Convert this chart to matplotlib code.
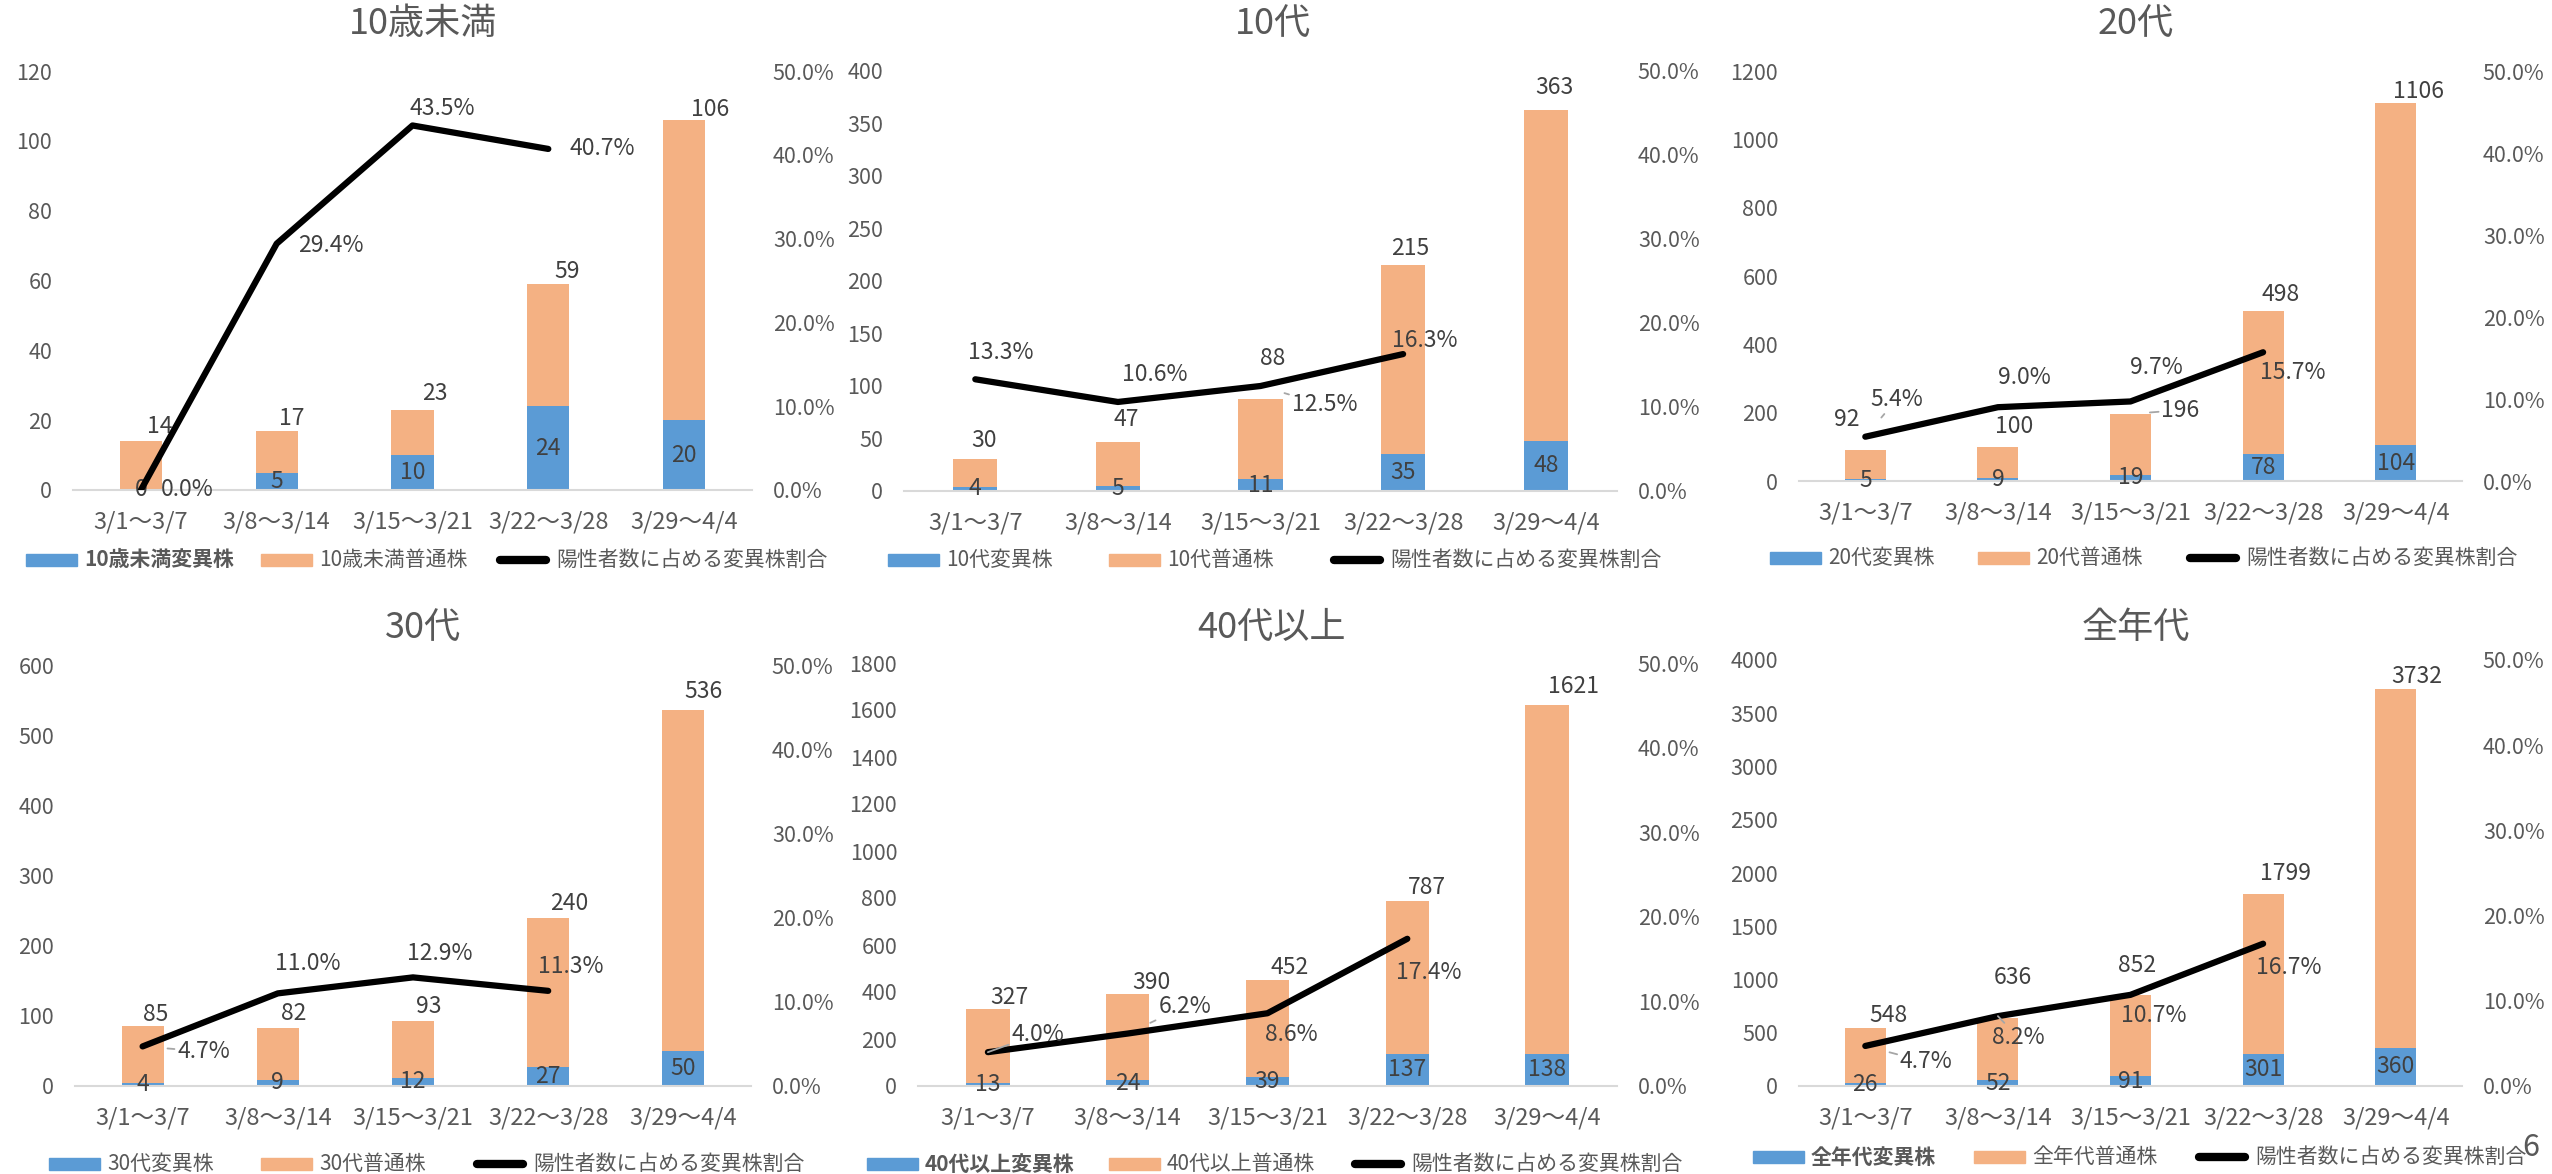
import matplotlib
matplotlib.use('Agg')
import matplotlib.pyplot as plt
from matplotlib.patches import Rectangle
from matplotlib.lines import Line2D
import numpy as np

plt.rcParams['font.family'] = ['Noto Sans CJK JP', 'DejaVu Sans']

# data
weeks = ['3/1～3/7', '3/8～3/14', '3/15～3/21', '3/22～3/28', '3/29～4/4']
groups = ['10歳未満', '10代', '20代', '30代', '40代以上', '全年代']

u10_variant = [0, 5, 10, 24, 20]
u10_total = [14, 17, 23, 59, 106]
u10_rate = [0.0, 29.4, 43.5, 40.7]

teen_variant = [4, 5, 11, 35, 48]
teen_total = [30, 47, 88, 215, 363]
teen_rate = [13.3, 10.6, 12.5, 16.3]

s20_variant = [5, 9, 19, 78, 104]
s20_total = [92, 100, 196, 498, 1106]
s20_rate = [5.4, 9.0, 9.7, 15.7]

s30_variant = [4, 9, 12, 27, 50]
s30_total = [85, 82, 93, 240, 536]
s30_rate = [4.7, 11.0, 12.9, 11.3]

s40_variant = [13, 24, 39, 137, 138]
s40_total = [327, 390, 452, 787, 1621]
s40_rate = [4.0, 6.2, 8.6, 17.4]

all_variant = [26, 52, 91, 301, 360]
all_total = [548, 636, 852, 1799, 3732]
all_rate = [4.7, 8.2, 10.7, 16.7]

variants = [u10_variant, teen_variant, s20_variant, s30_variant, s40_variant, all_variant]
totals = [u10_total, teen_total, s20_total, s30_total, s40_total, all_total]
rates = [u10_rate, teen_rate, s20_rate, s30_rate, s40_rate, all_rate]
y_max = [120, 400, 1200, 600, 1800, 4000]
y_step = [20, 50, 200, 100, 200, 500]

# layout (pixels in the 2552x1174 image)
W, H = 2552, 1174
axes_px = [(73, 71, 752, 490), (904, 71, 1617, 491), (1799, 71, 2462, 481),
           (75, 665, 751, 1086), (918, 663, 1617, 1086), (1799, 660, 2462, 1086)]
title_px = [(423, 24), (1273, 24), (2136, 24), (423, 628), (1272, 628), (2136, 628)]
# legend: start x, column width, center y
legend_px = [(26, 235, 560), (888, 221, 560), (1770, 208, 558),
             (49, 212, 1164), (867, 242, 1164), (1753, 221, 1157)]
bold_legend = [True, False, False, False, True, True]

# label offsets in px (dx right, dy down)
total_off = [
    [(19, -15), (15, -12), (22, -16), (19, -12), (26, -10)],
    [(9, -19), (8, -22), (12, -40), (7, -17), (9, -22)],
    [(-19, -30), (16, -20), (50, -4), (17, -16), (23, -12)],
    [(13, -12), (16, -15), (16, -14), (21, -14), (20, -18)],
    [(22, -12), (24, -12), (22, -12), (20, -14), (26, -19)],
    [(23, -12), (15, -41), (7, -30), (22, -21), (21, -12)],
]
rate_off = [
    [(46, 0), (54, 2), (30, -17), (54, 0)],
    [(25, -27), (37, -27), (64, 19), (22, -14)],
    [(31, -37), (26, -30), (26, -34), (30, 20)],
    [(61, 5), (30, -30), (27, -24), (23, -24)],
    [(50, -18), (57, -27), (24, 21), (21, 34)],
    [(61, 16), (20, 21), (23, 21), (26, 24)],
]
rate_leader = {(1, 2), (2, 0), (3, 0), (4, 0), (4, 1), (5, 0), (5, 1)}
total_leader = {(2, 2)}

blue = '#5B9BD5'
orange = '#F4B183'
gray_txt = '#595959'
lab_txt = '#404040'
leader = '#A6A6A6'
px2pt = 0.72

fig = plt.figure(figsize=(W / 100, H / 100), dpi=100)
x = np.arange(len(weeks))

for i in range(6):
    l, t, r, b = axes_px[i]
    ax = fig.add_axes([l / W, 1 - b / H, (r - l) / W, (b - t) / H])
    var = np.array(variants[i])
    tot = np.array(totals[i])
    ax.bar(x, var, 0.31, color=blue, zorder=2)
    ax.bar(x, tot - var, 0.31, bottom=var, color=orange, zorder=2)
    ax.set_xlim(-0.5, 4.5)
    ax.set_ylim(0, y_max[i])
    ax.set_yticks(np.arange(0, y_max[i] + 1, y_step[i]))
    ax.set_xticks(x)
    ax.set_xticklabels(weeks)
    ax.tick_params(axis='x', length=0, pad=15, labelsize=17, colors=gray_txt)
    ax.tick_params(axis='y', length=0, pad=15, labelsize=15.5, colors=gray_txt)
    for s in ['top', 'left', 'right']:
        ax.spines[s].set_visible(False)
    ax.spines['bottom'].set_color('#D9D9D9')
    ax.spines['bottom'].set_linewidth(1.5)

    for k in range(5):
        ax.text(x[k], var[k] / 2, str(var[k]), ha='center', va='center',
                fontsize=16.5, color=lab_txt, zorder=4)
        dx, dy = total_off[i][k]
        props = None
        if (i, k) in total_leader:
            props = dict(arrowstyle='-', color=leader, lw=1.3, shrinkA=0, shrinkB=14)
        ax.annotate(str(tot[k]), (x[k], tot[k]), xytext=(dx * px2pt, -dy * px2pt),
                    textcoords='offset points', ha='center', va='center',
                    fontsize=16.5, color=lab_txt, arrowprops=props, zorder=4)

    ax2 = ax.twinx()
    rr = np.array(rates[i]) / 100
    ax2.plot(x[:len(rr)], rr, color='black', lw=4.5, solid_joinstyle='round',
             solid_capstyle='round', zorder=3)
    ax2.set_ylim(0, 0.5)
    ax2.set_yticks(np.arange(0, 0.51, 0.1))
    ax2.set_yticklabels([f'{v:.1f}%' for v in np.arange(0, 51, 10)])
    ax2.tick_params(axis='y', length=0, pad=15, labelsize=15.5, colors=gray_txt)
    for s in ax2.spines.values():
        s.set_visible(False)
    for k in range(len(rr)):
        dx, dy = rate_off[i][k]
        props = None
        if (i, k) in rate_leader:
            props = dict(arrowstyle='-', color=leader, lw=1.3, shrinkA=0, shrinkB=18)
        ax2.annotate(f'{rates[i][k]:.1f}%', (x[k], rr[k]), xytext=(dx * px2pt, -dy * px2pt),
                     textcoords='offset points', ha='center', va='center',
                     fontsize=16.5, color=lab_txt, arrowprops=props, zorder=5)

    tx, ty = title_px[i]
    fig.text(tx / W, 1 - ty / H, groups[i], ha='center', va='center',
             fontsize=26, color=gray_txt)

    # legend, equal-width columns like Excel
    lx, cw, ly = legend_px[i]
    labels = [f'{groups[i]}変異株', f'{groups[i]}普通株', '陽性者数に占める変異株割合']
    for j, lab in enumerate(labels):
        sx = lx + j * cw
        if j < 2:
            fig.patches.append(Rectangle((sx / W, 1 - (ly + 6) / H), 51 / W, 12 / H,
                                         transform=fig.transFigure, color=[blue, orange][j]))
            tx0 = sx + 58
        else:
            fig.lines.append(Line2D([(sx + 4) / W, (sx + 50) / W], [1 - ly / H, 1 - ly / H],
                                    transform=fig.transFigure, color='black', lw=6,
                                    solid_capstyle='round'))
            tx0 = sx + 60
        fw = 'bold' if (j == 0 and bold_legend[i]) else 'normal'
        fig.text(tx0 / W, 1 - ly / H, lab, ha='left', va='center', fontsize=15,
                 color=gray_txt, fontweight=fw)

fig.text(2531 / W, 1 - 1147 / H, '6', ha='center', va='center', fontsize=22, color=gray_txt)

fig.savefig('out.png', dpi=100)
